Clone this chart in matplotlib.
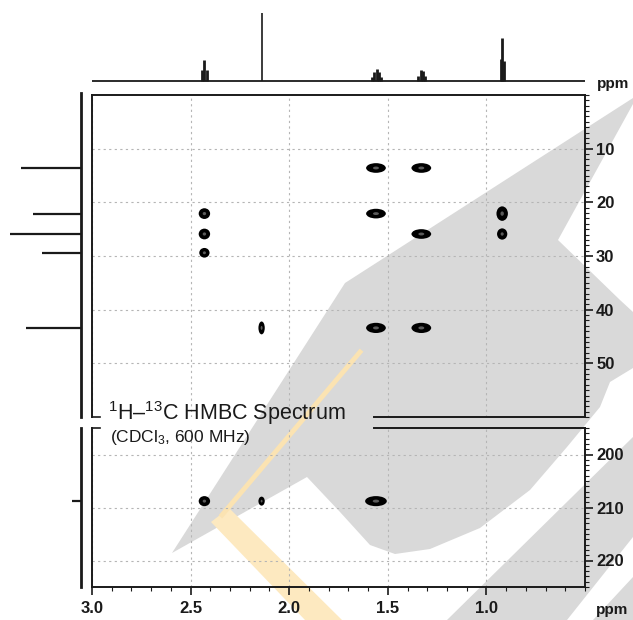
import matplotlib
matplotlib.use('Agg')
import matplotlib.pyplot as plt
from matplotlib.patches import Ellipse, Polygon
from matplotlib.lines import Line2D
from matplotlib.ticker import MultipleLocator

plt.rcParams['font.family'] = ['Liberation Sans', 'DejaVu Sans']
plt.rcParams['mathtext.fontset'] = 'custom'
plt.rcParams['mathtext.rm'] = 'Liberation Sans'
plt.rcParams['mathtext.it'] = 'Liberation Sans:italic'
plt.rcParams['mathtext.bf'] = 'Liberation Sans:bold'

# 1H projection, stick lines (ppm, height)
h1_ppm = [2.442, 2.430, 2.418, 2.140, 1.580, 1.568, 1.556, 1.544, 1.532,
          1.345, 1.333, 1.321, 1.309, 0.928, 0.920, 0.912]
h1_int = [11, 21, 11, 68, 4, 9, 12, 9, 4, 5, 11, 10, 5, 22, 43, 20]

# 13C projection (ppm, intensity)
c13_ppm = [13.6, 22.1, 25.9, 29.4, 43.4, 208.8]
c13_int = [60, 48, 71, 39, 55, 9]

# HMBC cross peaks (1H ppm, 13C ppm)
xp_h = [2.43, 2.43, 2.43, 2.14, 1.56, 1.56, 1.56, 1.33, 1.33, 1.33, 0.92, 0.92,
        2.43, 2.14, 1.56]
xp_c = [22.1, 25.9, 29.4, 43.4, 13.6, 22.1, 43.4, 13.6, 25.9, 43.4, 22.1, 25.9,
        208.8, 208.8, 208.8]
# blob size of each cross peak in ppm (width along 1H, height along 13C)
blob_w = [0.058, 0.058, 0.052, 0.032, 0.1, 0.1, 0.1, 0.1, 0.1, 0.1, 0.058, 0.052,
          0.058, 0.032, 0.11]
blob_h = [2.0, 2.0, 1.8, 2.4, 1.8, 1.8, 1.9, 1.8, 1.8, 1.9, 2.7, 2.1,
          1.9, 1.7, 1.9]

x_ticks = [3.0, 2.5, 2.0, 1.5, 1.0]
up_ticks = [10, 20, 30, 40, 50]
lo_ticks = [200, 210, 220]

W, H = 633, 620


def fx(px):
    return px / W


def fy(py):
    return 1 - py / H


fig = plt.figure(figsize=(6.33, 6.2), dpi=100)

# watermark shapes behind everything (pixel coords)
grey = '#d9d9d9'
wm_polys = [
    [(172, 553), (345, 283), (633, 98), (633, 104), (558, 240), (620, 300),
     (633, 312), (633, 368), (610, 382), (600, 407), (567, 447), (530, 490),
     (480, 528), (430, 549), (395, 554), (370, 545), (340, 512), (307, 477)],
    [(447, 620), (633, 437), (633, 537), (567, 620)],
    [(593, 620), (633, 577), (633, 620)],
]
for poly in wm_polys:
    fig.add_artist(Polygon([(fx(a), fy(b)) for a, b in poly], closed=True,
                           transform=fig.transFigure, facecolor=grey,
                           edgecolor='none', zorder=-5))
fig.add_artist(Polygon([(fx(a), fy(b)) for a, b in
                        [(211, 522), (229, 508), (342, 620), (305, 620)]],
                       closed=True, transform=fig.transFigure,
                       facecolor='#fde9c0', edgecolor='none', zorder=-4))
fig.add_artist(Line2D([fx(360), fx(222)], [fy(352), fy(515)],
                      transform=fig.transFigure, color='#fbe3b2', lw=3.5,
                      zorder=-4))

left, right = fx(92), fx(585)
ax_up = fig.add_axes([left, fy(417), right - left, fy(95) - fy(417)])
ax_lo = fig.add_axes([left, fy(587), right - left, fy(428) - fy(587)])
ax_top = fig.add_axes([left, fy(84), right - left, fy(8) - fy(84)])
ax_lup = fig.add_axes([0, fy(417), fx(81), fy(95) - fy(417)])
ax_llo = fig.add_axes([0, fy(587), fx(81), fy(428) - fy(587)])

line_col = '#1a1a1a'

for ax, ylim, yt in [(ax_up, (60, 0), up_ticks), (ax_lo, (225, 195), lo_ticks)]:
    ax.set_facecolor('none')
    ax.set_xlim(3.0, 0.5)
    ax.set_ylim(*ylim)
    ax.set_xticks(x_ticks)
    ax.set_yticks(yt)
    ax.xaxis.set_minor_locator(MultipleLocator(0.1))
    ax.yaxis.set_minor_locator(MultipleLocator(1))
    ax.yaxis.tick_right()
    ax.grid(True, which='major', color='#b5b5b5', linestyle=(0, (2, 3)), linewidth=0.8)
    for s in ax.spines.values():
        s.set_linewidth(1.4)
        s.set_color(line_col)
    ax.tick_params(axis='y', which='major', direction='out', length=6, width=1.2,
                   labelsize=12, pad=2, colors=line_col)
    ax.tick_params(axis='y', which='minor', direction='out', length=3, width=0.8,
                   colors=line_col)
    for lab in ax.get_yticklabels():
        lab.set_fontweight('bold')

ax_up.tick_params(axis='x', which='both', bottom=False, labelbottom=False)
ax_up.spines['bottom'].set_visible(False)
ax_lo.spines['top'].set_visible(False)
ax_lo.tick_params(axis='x', which='major', direction='out', length=6, width=1.2,
                  labelsize=12, pad=4, colors=line_col)
ax_lo.tick_params(axis='x', which='minor', direction='out', length=3, width=0.8,
                  colors=line_col)
ax_lo.set_xticklabels([f'{v:.1f}' for v in x_ticks], fontweight='bold')

# broken frame between the two panels
for ax, yy in [(ax_up, 0), (ax_lo, 1)]:
    tr = ax.get_xaxis_transform()
    ax.plot([1.57, 0.5], [yy, yy], transform=tr, color=line_col, lw=1.4,
            clip_on=False, solid_capstyle='projecting')
    ax.plot([3.0, 2.96], [yy, yy], transform=tr, color=line_col, lw=1.2,
            clip_on=False)

# cross peaks
for h, c, w, hh in zip(xp_h, xp_c, blob_w, blob_h):
    ax = ax_up if c < 100 else ax_lo
    ax.add_patch(Ellipse((h, c), w, hh, facecolor='black', edgecolor='none', zorder=3))
    ax.add_patch(Ellipse((h, c), w * 0.3, hh * 0.3, facecolor='#5a5a5a',
                         edgecolor='none', zorder=3.1))

# 1H projection
ax_top.set_facecolor('none')
ax_top.set_xlim(3.0, 0.5)
ax_top.set_ylim(-3, 73)
ax_top.axhline(0, color=line_col, lw=1.3)
h1_lw = [1.2 if v > 60 else 2.0 for v in h1_int]
ax_top.vlines(h1_ppm, 0, h1_int, color=line_col, linewidths=h1_lw)
ax_top.axis('off')

# 13C projections
for ax, ylim in [(ax_lup, (60, 0)), (ax_llo, (225, 195))]:
    ax.set_facecolor('none')
    ax.set_xlim(81, 0)
    ax.set_ylim(*ylim)
    ax.axis('off')
    sel = [(c, i) for c, i in zip(c13_ppm, c13_int) if ylim[1] <= c <= ylim[0]]
    ax.hlines([s[0] for s in sel], 0, [s[1] for s in sel], color=line_col, lw=1.6)
ax_lup.plot([0, 0], [60, -0.4], color=line_col, lw=2, clip_on=False)
ax_llo.plot([0, 0], [225, 195], color=line_col, lw=2, clip_on=False)

fig.text(fx(612), fy(610), 'ppm', ha='center', va='center', size=11,
         color=line_col, fontweight='bold')
fig.text(fx(613), fy(84), 'ppm', ha='center', va='center', size=11,
         color=line_col, fontweight='bold')
fig.text(fx(108), fy(420), r'$^{1}$H–$^{13}$C HMBC Spectrum', ha='left',
         va='baseline', size=15.5, color=line_col)
fig.text(fx(110), fy(442), r'(CDCl$_{3}$, 600 MHz)', ha='left', va='baseline',
         size=12.5, color=line_col)

fig.savefig('out.png', dpi=100)
